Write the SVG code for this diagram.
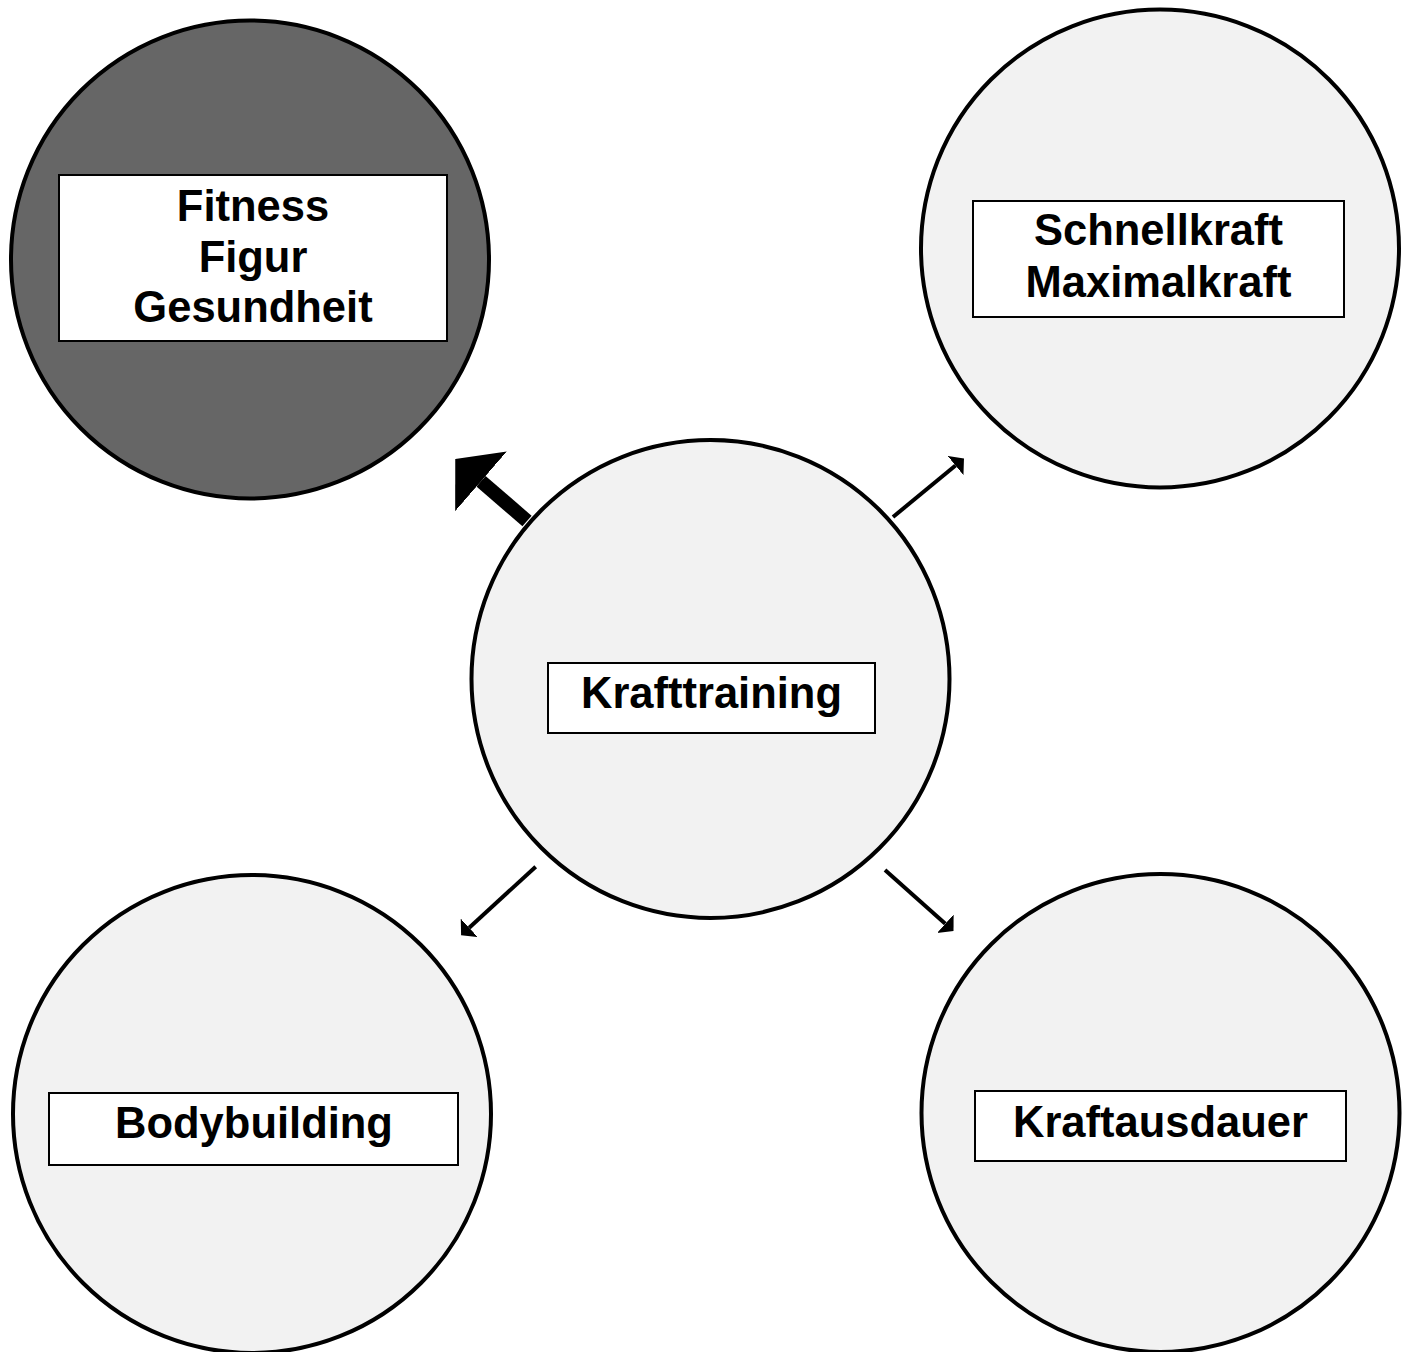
<svg xmlns="http://www.w3.org/2000/svg" width="1413" height="1352" viewBox="0 0 1413 1352">
  <style>
    .circle { stroke: #000; stroke-width: 4; }
    .light { fill: #f2f2f2; }
    .dark { fill: #666666; }
    .box { fill: #fff; stroke: #000; stroke-width: 2; }
    .label { font-family: "Liberation Sans", Arial, sans-serif; font-weight: bold; font-size: 43.5px; fill: #000; text-anchor: middle; }
    .conn { stroke: #000; fill: none; }
    .thin { stroke-width: 4; marker-end: url(#head); }
    .bold { stroke-width: 14; marker-end: url(#headBold); }
  </style>
  <defs>
    <marker id="head" markerUnits="userSpaceOnUse" viewBox="0 -12.5 11 25" refX="0" refY="0" markerWidth="11" markerHeight="25" orient="auto">
      <path d="M0,-12.5 L11,0 L0,12.5 z" fill="#000"/>
    </marker>
    <marker id="headBold" markerUnits="userSpaceOnUse" viewBox="0 -39.5 34 79" refX="0" refY="0" markerWidth="34" markerHeight="79" orient="auto">
      <path d="M0,-39.5 L34,0 L0,39.5 z" fill="#000"/>
    </marker>
  </defs>

  <rect width="1413" height="1352" fill="#fff"/>

  <!-- connectors -->
  <g id="connectors">
    <path class="conn bold" d="M527,521 L481,481.3"/>
    <path class="conn thin" d="M893,517 L955.5,465.5"/>
    <path class="conn thin" d="M535.7,866.7 L469.2,927.8"/>
    <path class="conn thin" d="M885,870 L945.3,923.8"/>
  </g>

  <!-- goal: fitness -->
  <g id="node-fitness">
    <circle class="circle dark" cx="250" cy="259.5" r="239"/>
    <rect class="box" x="59" y="175" width="388" height="166"/>
    <text class="label" x="253" y="221">Fitness</text>
    <text class="label" x="253" y="271.5">Figur</text>
    <text class="label" x="253" y="322">Gesundheit</text>
  </g>

  <!-- goal: power -->
  <g id="node-schnellkraft">
    <circle class="circle light" cx="1160" cy="248.5" r="239"/>
    <rect class="box" x="973" y="201" width="371" height="116"/>
    <text class="label" x="1158.5" y="245">Schnellkraft</text>
    <text class="label" x="1158.5" y="297">Maximalkraft</text>
  </g>

  <!-- centre -->
  <g id="node-krafttraining">
    <circle class="circle light" cx="710.5" cy="679" r="239"/>
    <rect class="box" x="548" y="663" width="327" height="70"/>
    <text class="label" x="711.5" y="708">Krafttraining</text>
  </g>

  <!-- goal: bodybuilding -->
  <g id="node-bodybuilding">
    <circle class="circle light" cx="252" cy="1114" r="239"/>
    <rect class="box" x="49" y="1093" width="409" height="72"/>
    <text class="label" x="254" y="1138">Bodybuilding</text>
  </g>

  <!-- goal: endurance -->
  <g id="node-kraftausdauer">
    <circle class="circle light" cx="1160.5" cy="1113" r="239"/>
    <rect class="box" x="975" y="1091" width="371" height="70"/>
    <text class="label" x="1160.5" y="1137">Kraftausdauer</text>
  </g>
</svg>
